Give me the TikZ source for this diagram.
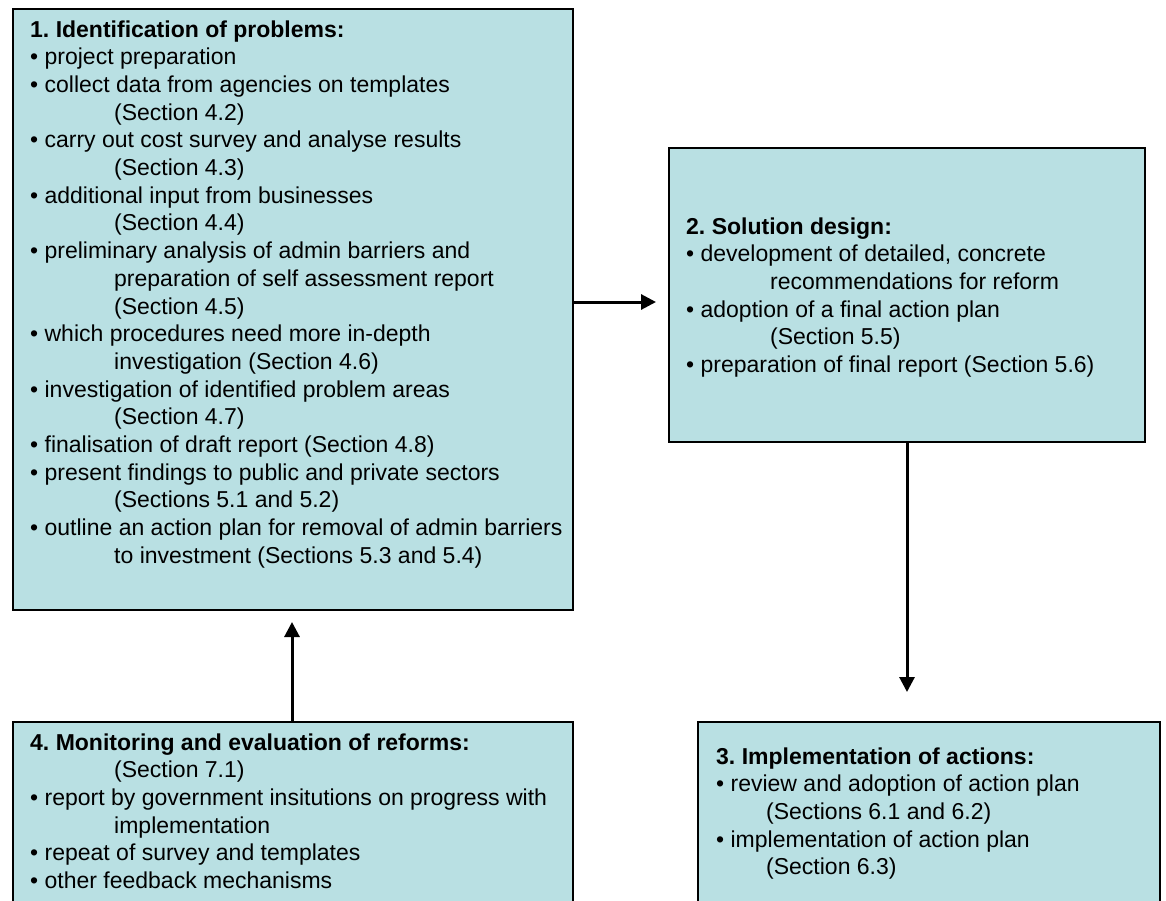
\documentclass[tikz,border=0pt]{standalone}
\usepackage{fontspec}
\setmainfont{Liberation Sans}
\usetikzlibrary{arrows.meta}
\definecolor{boxfill}{HTML}{B9E0E3}
\newcommand{\ind}{\hspace*{84pt}}
\newcommand{\indb}{\hspace*{50pt}}
\newcommand{\boxtext}[1]{\parbox[t]{600pt}{\frenchspacing\fontsize{23pt}{27.7pt}\selectfont\raggedright #1}}
\begin{document}
\begin{tikzpicture}[x=1pt,y=-1pt,
  box/.style={draw=black, line width=1.5pt, fill=boxfill, rectangle, inner sep=0pt, anchor=north west},
  txt/.style={anchor=base west, inner sep=0pt},
  arr/.style={line width=3pt, -{Triangle[length=15pt,width=15pt]}}]
\useasboundingbox (0,0) rectangle (1166,900);
\fill[white] (0,0) rectangle (1166,900);
\begin{scope}
\clip (0,0) rectangle (1166,900);
% boxes
\node[box, minimum width=560pt, minimum height=601pt] (b1) at (12,8) {};
\node[box, minimum width=476pt, minimum height=294pt] (b2) at (668,147) {};
\node[box, minimum width=462pt, minimum height=200pt] (b3) at (697,721) {};
\node[box, minimum width=560pt, minimum height=200pt] (b4) at (12,721) {};
% texts
\node[txt] (t1) at (30,37) {\boxtext{%
\textbf{1. Identification of problems:}\\
• project preparation\\
• collect data from agencies on templates\\
\ind(Section 4.2)\\
• carry out cost survey and analyse results\\
\ind(Section 4.3)\\
• additional input from businesses\\
\ind(Section 4.4)\\
• preliminary analysis of admin barriers and\\
\ind preparation of self assessment report\\
\ind(Section 4.5)\\
• which procedures need more in-depth\\
\ind investigation (Section 4.6)\\
• investigation of identified problem areas\\
\ind(Section 4.7)\\
• finalisation of draft report (Section 4.8)\\
• present findings to public and private sectors\\
\ind(Sections 5.1 and 5.2)\\
• outline an action plan for removal of admin barriers\\
\ind to investment (Sections 5.3 and 5.4)}};
\node[txt] (t2) at (686,234) {\boxtext{%
\textbf{2. Solution design:}\\
• development of detailed, concrete\\
\ind recommendations for reform\\
• adoption of a final action plan\\
\ind(Section 5.5)\\
• preparation of final report (Section 5.6)}};
\node[txt] (t3) at (716,764) {\boxtext{%
\textbf{3. Implementation of actions:}\\
• review and adoption of action plan\\
\indb(Sections 6.1 and 6.2)\\
• implementation of action plan\\
\indb(Section 6.3)}};
\node[txt] (t4) at (30,750) {\boxtext{%
\textbf{4. Monitoring and evaluation of reforms:}\\
\ind(Section 7.1)\\
• report by government insitutions on progress with\\
\ind implementation\\
• repeat of survey and templates\\
• other feedback mechanisms}};
\end{scope}
% arrows
\coordinate (p12) at (656,302);
\coordinate (p23) at (907,692);
\coordinate (p41) at (292,622);
\draw[arr] (b1.east |- p12) -- (p12);
\draw[arr] (b2.south -| p23) -- (p23);
\draw[arr] (b4.north -| p41) -- (p41);
\end{tikzpicture}
\end{document}
